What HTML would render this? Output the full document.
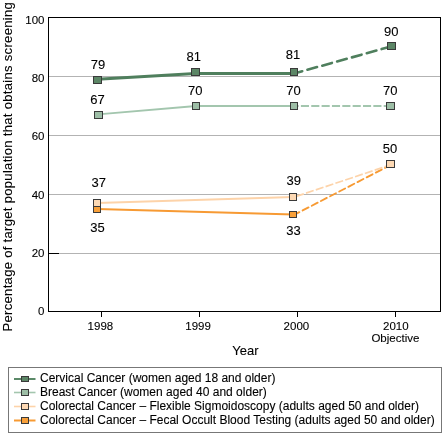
<!DOCTYPE html>
<html><head><meta charset="utf-8">
<style>
html,body{margin:0;padding:0;background:#fff;}
body{width:443px;height:442px;overflow:hidden;}
svg{display:block;will-change:transform;}
text{font-family:"Liberation Sans",sans-serif;fill:#000;stroke:#000;stroke-width:0.1px;}
.tk{font-size:11.5px;}
.dl{font-size:13px;}
.lg{font-size:12px;}
</style></head><body>
<svg width="443" height="442" viewBox="0 0 443 442">
<rect x="0" y="0" width="443" height="442" fill="#fff"/>
<!-- gridlines -->
<g stroke="#b3b3b3" stroke-width="1">
<line x1="49" y1="76.5" x2="440" y2="76.5"/>
<line x1="49" y1="135.5" x2="440" y2="135.5"/>
<line x1="49" y1="194.5" x2="440" y2="194.5"/>
<line x1="49" y1="253.5" x2="440" y2="253.5"/>
</g>
<line x1="48" y1="253.5" x2="59" y2="253.5" stroke="#000" stroke-width="1"/>
<!-- frame -->
<rect x="48.5" y="17.5" width="392" height="294" fill="none" stroke="#000" stroke-width="1"/>
<!-- x ticks -->
<g stroke="#000" stroke-width="1">
<line x1="101.5" y1="311" x2="101.5" y2="317"/>
<line x1="199.5" y1="311" x2="199.5" y2="317"/>
<line x1="297.5" y1="311" x2="297.5" y2="317"/>
<line x1="395.5" y1="311" x2="395.5" y2="317"/>
</g>
<!-- y tick labels -->
<g class="tk" text-anchor="end">
<text x="44.5" y="23.6">100</text>
<text x="44.5" y="81.6">80</text>
<text x="44.5" y="139.9">60</text>
<text x="44.5" y="198.6">40</text>
<text x="44.5" y="256.6">20</text>
<text x="44.5" y="315.2">0</text>
</g>
<!-- x tick labels -->
<g class="tk" text-anchor="middle">
<text x="100.4" y="329.9">1998</text>
<text x="198.1" y="329.9">1999</text>
<text x="296.4" y="329.9">2000</text>
<text x="395.8" y="329.5">2010</text>
<text x="395.4" y="341.5">Objective</text>
</g>
<text x="245.4" y="355.3" font-size="13" text-anchor="middle">Year</text>
<text transform="translate(11.8,166.7) rotate(-90)" font-size="13" text-anchor="middle" letter-spacing="0.32">Percentage of target population that obtains screening</text>

<!-- series: FOBT (orange) -->
<g fill="none" stroke="#f79a33" stroke-width="2.1">
<polyline points="97,209 293.5,214.5"/>
<polyline points="293.5,215.2 390.5,165" stroke-width="1.9" stroke-linecap="round" stroke-dasharray="6.6 3.7" stroke-dashoffset="0"/>
</g>
<!-- series: sigmoidoscopy (peach) -->
<g fill="none" stroke="#fdd3a9" stroke-width="2">
<polyline points="97,203 293.5,197"/>
<polyline points="293.5,197.3 390.5,164.9" stroke-width="1.7" stroke-dasharray="8.1 2.25" stroke-dashoffset="7.55"/>
</g>
<!-- breast -->
<g fill="none" stroke="#a3c6ae" stroke-width="1.85">
<polyline points="98,114.3 196,106 294,106"/>
<polyline points="294,106 390.5,106" stroke-dasharray="8.1 2.25" stroke-dashoffset="3.45"/>
</g>
<!-- cervical -->
<g fill="none" stroke="#4f7f5d" stroke-width="3">
<polyline points="97.5,79.2 195.5,73.5 294,73.5"/>
<polyline points="294,73.5 391,46.5" stroke-width="2.6" stroke-linecap="round" stroke-dasharray="10 5.4" stroke-dashoffset="1.46"/>
</g>

<!-- markers -->
<g stroke="#3a3a3a" stroke-width="1">
<rect x="93.5" y="76.5" width="8" height="7" fill="#5c8666"/>
<rect x="191.5" y="68.5" width="8" height="7" fill="#5c8666"/>
<rect x="290.5" y="68.5" width="7" height="7" fill="#5c8666"/>
<rect x="387.5" y="42.5" width="8" height="7" fill="#5c8666"/>

<rect x="94.5" y="111.5" width="8" height="7" fill="#9dbea6"/>
<rect x="192.5" y="102.5" width="7" height="7" fill="#9dbea6"/>
<rect x="290.5" y="102.5" width="7" height="7" fill="#9dbea6"/>
<rect x="386.5" y="102.5" width="8" height="7" fill="#9dbea6"/>

<rect x="93.5" y="199.5" width="7" height="7" fill="#fdd9b4"/>
<rect x="289.5" y="193.5" width="7" height="7" fill="#fdd9b4"/>
<rect x="93.5" y="206.5" width="7" height="6" fill="#f8a03a"/>
<rect x="289.5" y="211.5" width="7" height="6" fill="#f8a03a"/>
<rect x="386.5" y="160.5" width="8" height="7" fill="#fdd9b4"/>
</g>

<!-- data labels -->
<g class="dl" text-anchor="middle">
<text x="98.1" y="69.2">79</text>
<text x="193.7" y="60.5">81</text>
<text x="293" y="59.1">81</text>
<text x="391.2" y="35.7">90</text>
<text x="97.5" y="104.4">67</text>
<text x="195.2" y="94.8">70</text>
<text x="293.4" y="94.8">70</text>
<text x="390.2" y="94.8">70</text>
<text x="98.7" y="187.1">37</text>
<text x="293.7" y="184.6">39</text>
<text x="390" y="152.9">50</text>
<text x="97.4" y="231.8">35</text>
<text x="293.5" y="235.2">33</text>
</g>

<!-- legend -->
<rect x="8.5" y="367.5" width="433" height="65" fill="none" stroke="#777" stroke-width="1"/>
<g fill="none">
<line x1="14" y1="379" x2="35.5" y2="379" stroke="#5b8968" stroke-width="2"/>
<line x1="14" y1="392.5" x2="35.5" y2="392.5" stroke="#a3c6ae" stroke-width="1.6"/>
<line x1="14" y1="406.5" x2="35.5" y2="406.5" stroke="#fdd3a9" stroke-width="1.6"/>
<line x1="14" y1="420.5" x2="35.5" y2="420.5" stroke="#f79a33" stroke-width="2"/>
</g>
<g stroke="#3a3a3a" stroke-width="1">
<rect x="21.5" y="376.5" width="7" height="5" fill="#5c8666"/>
<rect x="21.5" y="389.5" width="7" height="6" fill="#9dbea6"/>
<rect x="21.5" y="403.5" width="7" height="6" fill="#fdd9b4"/>
<rect x="21.5" y="417.5" width="7" height="6" fill="#f8a03a"/>
</g>
<g class="lg">
<text x="40" y="382.3">Cervical Cancer (women aged 18 and older)</text>
<text x="40" y="396.2">Breast Cancer (women aged 40 and older)</text>
<text x="40" y="410.1">Colorectal Cancer – Flexible Sigmoidoscopy (adults aged 50 and older)</text>
<text x="40" y="424">Colorectal Cancer – Fecal Occult Blood Testing (adults aged 50 and older)</text>
</g>
</svg>
</body></html>
